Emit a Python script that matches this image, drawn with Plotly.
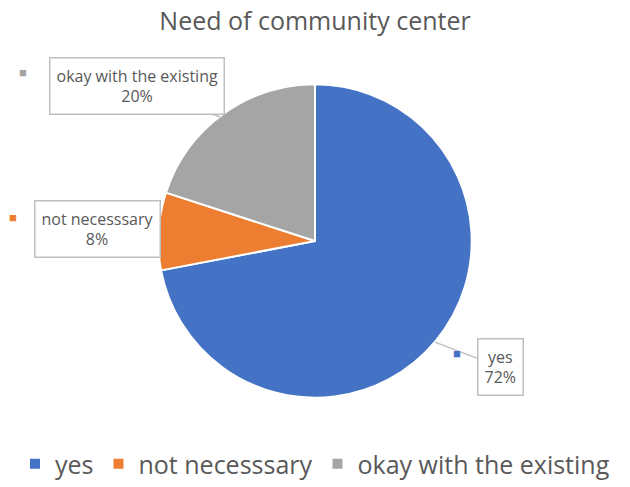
import plotly.graph_objects as go

labels = ["yes", "not necesssary", "okay with the existing"]
values = [72, 8, 20]
colors = ["#4472C4", "#ED7D31", "#A5A5A5"]

W, H = 630, 487
FONT = "Open Sans, sans-serif"

fig = go.Figure(go.Pie(
    labels=labels, values=values, sort=False, direction="clockwise", rotation=0,
    marker=dict(colors=colors, line=dict(color="white", width=2)),
    textinfo="none", hoverinfo="label+percent",
    domain=dict(x=[157 / W, 473 / W], y=[1 - 401 / H, 1 - 85 / H]),
))

def px(x, y):
    return x / W, 1 - y / H

total = sum(values)
pct = [f"{round(v / total * 100)}%" for v in values]

# label layout: (box center, arrow target or None, key square position)
label_layout = {
    "yes": ((500, 370), (435, 345), (457, 356)),
    "not necesssary": ((97, 231), None, (13, 219)),
    "okay with the existing": ((137, 87), (220, 118), (23, 73)),
}

annotations = []
for lab, p, c in zip(labels, pct, colors):
    (bx, by), tgt, (kx, ky) = label_layout[lab]
    common = dict(text=f"{lab}<br>{p}", xref="paper", yref="paper",
                  xanchor="center", yanchor="middle",
                  font=dict(family=FONT, size=16, color="#595959"),
                  bgcolor="white", bordercolor="#BFBFBF", borderwidth=1.5,
                  borderpad=6, align="center")
    if tgt is None:
        x, y = px(bx, by)
        annotations.append(dict(x=x, y=y, showarrow=False, **common))
    else:
        x, y = px(*tgt)
        annotations.append(dict(x=x, y=y, showarrow=True, arrowhead=0,
                                arrowcolor="#BFBFBF", arrowwidth=1.5,
                                ax=bx - tgt[0], ay=by - tgt[1], **common))
    kxp, kyp = px(kx, ky)
    annotations.append(dict(x=kxp, y=kyp, xref="paper", yref="paper", showarrow=False,
                            xanchor="center", yanchor="middle",
                            text="■", font=dict(size=13, color=c)))

fig.update_layout(
    width=W, height=H,
    margin=dict(l=0, r=0, t=0, b=0),
    paper_bgcolor="white",
    title=dict(text="Need of community center", x=0.5, xanchor="center",
               y=1 - 21 / H, yanchor="middle",
               font=dict(family=FONT, size=25, color="#595959")),
    legend=dict(orientation="h", x=0.5, xanchor="center", y=1 - 468 / H, yanchor="middle",
                font=dict(family=FONT, size=25, color="#595959"),
                itemwidth=30, traceorder="normal"),
    annotations=annotations,
)

fig.write_html("out.html")
